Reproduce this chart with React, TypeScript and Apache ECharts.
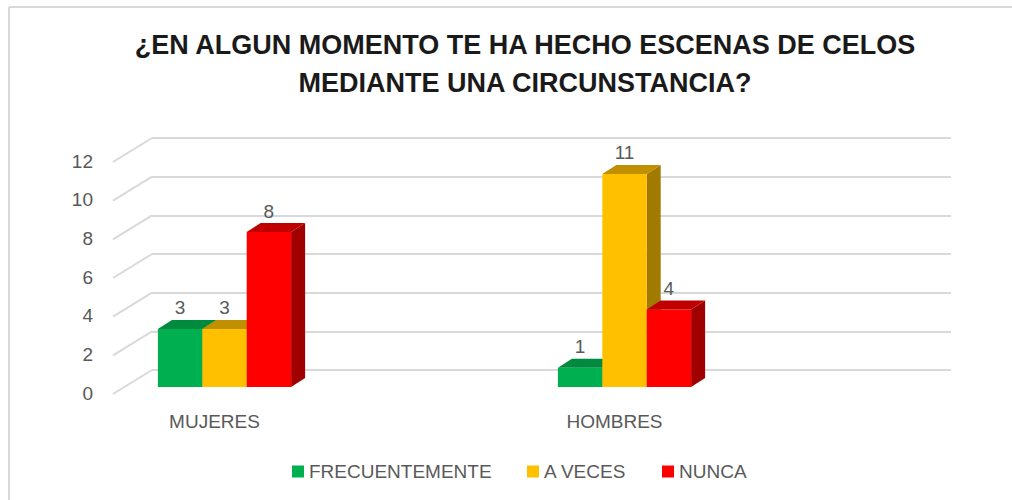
import React, { useEffect, useRef } from "react";
import * as echarts from "echarts";

const titleText = "¿EN ALGUN MOMENTO TE HA HECHO ESCENAS DE CELOS\nMEDIANTE UNA CIRCUNSTANCIA?";
const categories = ["MUJERES", "HOMBRES"];
const seriesNames = ["FRECUENTEMENTE", "A VECES", "NUNCA"];
const frecuentemente = [3, 1];
const aVeces = [3, 11];
const nunca = [8, 4];
const yTicks = [0, 2, 4, 6, 8, 10, 12];

const seriesValues = [frecuentemente, aVeces, nunca];
const faceColors = [
  { front: "#00b050", top: "#008a3e", side: "#007a36" },
  { front: "#ffc000", top: "#c09000", side: "#a37a00" },
  { front: "#ff0000", top: "#c00000", side: "#a00000" },
];
const legendLefts = [287, 522, 657];

const FONT = "'Liberation Sans', Arial, sans-serif";
const GRAY = "#595959";
const DX = 14;
const DY = -9;

export default function App() {
  const ref = useRef<HTMLDivElement>(null);
  useEffect(() => {
    if (!ref.current) return;
    const chart = echarts.init(ref.current, null, { renderer: "svg" });

    const barSeries = seriesValues.map((vals, sIdx) => ({
      type: "custom",
      name: seriesNames[sIdx],
      xAxisIndex: 1,
      yAxisIndex: 1,
      itemStyle: { color: faceColors[sIdx].front },
      data: vals.map((v, i) => [i, v]),
      z: 10 + sIdx,
      renderItem: (params: any, api: any) => {
        const cat = api.value(0);
        const val = api.value(1);
        const base = api.coord([cat, 0]);
        const top = api.coord([cat, val]);
        const band = api.size([1, 0])[0];
        const bw = band * 0.111;
        const cx = base[0] + (sIdx - 1) * bw;
        const x0 = cx - bw / 2;
        const x1 = cx + bw / 2;
        const yb = base[1];
        const yt = top[1];
        const c = faceColors[sIdx];
        return {
          type: "group",
          children: [
            {
              type: "polygon",
              shape: { points: [[x1, yt], [x1 + DX, yt + DY], [x1 + DX, yb + DY], [x1, yb]] },
              style: { fill: c.side },
            },
            {
              type: "rect",
              shape: { x: x0, y: yt, width: bw, height: yb - yt },
              style: { fill: c.front },
            },
            {
              type: "polygon",
              shape: { points: [[x0, yt], [x0 + DX, yt + DY], [x1 + DX, yt + DY], [x1, yt]] },
              style: { fill: c.top },
            },
            {
              type: "text",
              style: {
                text: String(val),
                x: cx,
                y: yt - 21,
                align: "center",
                verticalAlign: "middle",
                fill: GRAY,
                font: `19px ${FONT}`,
              },
            },
          ],
        };
      },
    }));

    chart.setOption({
      animation: false,
      backgroundColor: "#ffffff",
      title: {
        text: titleText,
        left: 520,
        top: 21,
        textAlign: "center",
        textStyle: {
          fontFamily: FONT,
          fontSize: 27,
          fontWeight: "bold",
          color: "#1a1a1a",
          lineHeight: 38,
        },
      },
      legend: seriesNames.map((name, i) => ({
        data: [name],
        left: legendLefts[i],
        top: 457,
        icon: "rect",
        itemWidth: 12,
        itemHeight: 12,
        itemGap: 6,
        textStyle: { fontFamily: FONT, fontSize: 19, color: GRAY },
        selectedMode: false,
      })),
      graphic: [
        { type: "line", shape: { x1: 9, y1: 7, x2: 1012, y2: 7 }, style: { stroke: "#d9d9d9", lineWidth: 2 } },
        { type: "line", shape: { x1: 9, y1: 7, x2: 9, y2: 500 }, style: { stroke: "#d9d9d9", lineWidth: 2 } },
      ],
      grid: [
        { left: 152, right: 61, top: 138, bottom: 130 },
        { left: 24.5, right: 187.5, top: 154.5, bottom: 113 },
        { left: 113, right: 100, top: 161, bottom: 107 },
      ],
      xAxis: [
        { gridIndex: 0, type: "value", min: 0, max: 1, show: false },
        {
          gridIndex: 1,
          type: "category",
          data: categories,
          axisLine: { show: false },
          axisTick: { show: false },
          axisLabel: {
            margin: 25,
            padding: [0, 20, 0, 0],
            fontFamily: FONT,
            fontSize: 19,
            color: GRAY,
          },
        },
        { gridIndex: 2, type: "value", min: 0, max: 1, show: false },
      ],
      yAxis: [
        {
          gridIndex: 0,
          type: "value",
          min: 0,
          max: 12,
          interval: 2,
          axisLine: { show: false },
          axisTick: { show: false },
          axisLabel: { show: false },
          splitLine: { lineStyle: { color: "#d9d9d9", width: 2 } },
        },
        {
          gridIndex: 1,
          type: "value",
          min: 0,
          max: 12,
          interval: 2,
          show: false,
        },
        {
          gridIndex: 2,
          type: "value",
          min: 0,
          max: 12,
          interval: 2,
          axisLine: { show: false },
          axisTick: { show: false },
          splitLine: { show: false },
          axisLabel: { margin: 20, fontFamily: FONT, fontSize: 19, color: GRAY },
        },
      ],
      series: [
        {
          type: "custom",
          xAxisIndex: 0,
          yAxisIndex: 0,
          silent: true,
          data: yTicks.map((t) => [0, t]),
          z: 1,
          renderItem: (params: any, api: any) => {
            const p = api.coord([0, api.value(1)]);
            return {
              type: "line",
              shape: { x1: p[0], y1: p[1], x2: p[0] - 39, y2: p[1] + 24 },
              style: { stroke: "#d9d9d9", lineWidth: 2 },
            };
          },
        },
        ...barSeries,
      ],
    });
    return () => chart.dispose();
  }, []);
  return (
    <div
      ref={ref}
      style={{ position: "fixed", left: 0, top: 0, width: 1012, height: 500, background: "#fff" }}
    />
  );
}
